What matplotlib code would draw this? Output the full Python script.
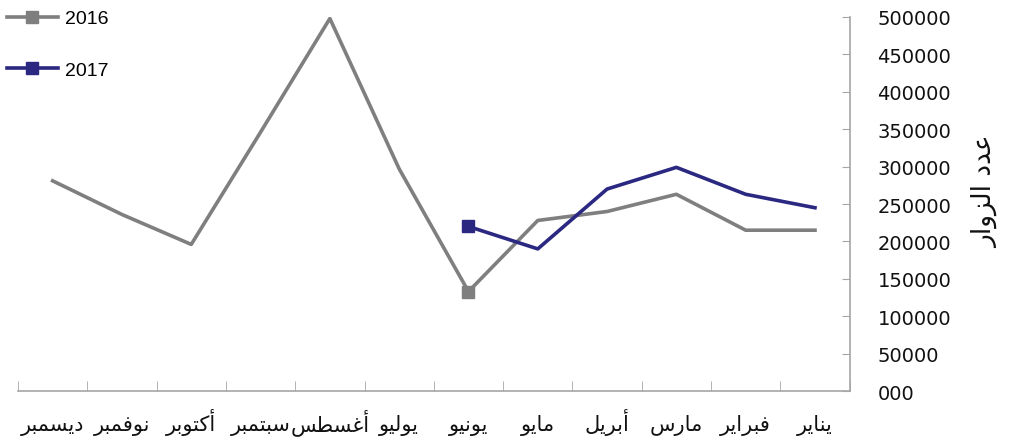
import matplotlib
matplotlib.use('Agg')
import matplotlib.pyplot as plt
from matplotlib.ticker import FixedLocator, FuncFormatter

# months, January first (drawn right to left)
MONTHS = ['يناير', 'فبراير', 'مارس', 'أبريل', 'مايو', 'يونيو',
          'يوليو', 'أغسطس', 'سبتمبر', 'أكتوبر', 'نوفمبر', 'ديسمبر']
VISITS_2016 = [215000, 215000, 263000, 240000, 228000, 133000,
               297000, 498000, 346000, 196000, 236000, 281000]
VISITS_2017 = [245000, 263000, 299000, 270000, 190000, 220000]
Y_TICKS = list(range(0, 500001, 50000))
Y_LABEL = 'عدد الزوار'

GREY = '#7f7f7f'
NAVY = '#2b2882'

# minimal arabic shaping: (isolated, final, initial, medial)
FORMS = {
    'ا': (0xFE8D, 0xFE8E, None, None),
    'أ': (0xFE83, 0xFE84, None, None),
    'د': (0xFEA9, 0xFEAA, None, None),
    'ر': (0xFEAD, 0xFEAE, None, None),
    'ز': (0xFEAF, 0xFEB0, None, None),
    'و': (0xFEED, 0xFEEE, None, None),
    'ب': (0xFE8F, 0xFE90, 0xFE91, 0xFE92),
    'ت': (0xFE95, 0xFE96, 0xFE97, 0xFE98),
    'س': (0xFEB1, 0xFEB2, 0xFEB3, 0xFEB4),
    'ط': (0xFEC1, 0xFEC2, 0xFEC3, 0xFEC4),
    'ع': (0xFEC9, 0xFECA, 0xFECB, 0xFECC),
    'غ': (0xFECD, 0xFECE, 0xFECF, 0xFED0),
    'ف': (0xFED1, 0xFED2, 0xFED3, 0xFED4),
    'ك': (0xFED9, 0xFEDA, 0xFEDB, 0xFEDC),
    'ل': (0xFEDD, 0xFEDE, 0xFEDF, 0xFEE0),
    'م': (0xFEE1, 0xFEE2, 0xFEE3, 0xFEE4),
    'ن': (0xFEE5, 0xFEE6, 0xFEE7, 0xFEE8),
    'ي': (0xFEF1, 0xFEF2, 0xFEF3, 0xFEF4),
}


def shape(text):
    out = []
    for i, ch in enumerate(text):
        if ch not in FORMS:
            out.append(ch)
            continue
        prev = text[i - 1] if i > 0 else ''
        nxt = text[i + 1] if i + 1 < len(text) else ''
        iso, fin, ini, med = FORMS[ch]
        joins_prev = prev in FORMS and FORMS[prev][2] is not None
        joins_next = ini is not None and nxt in FORMS
        if joins_prev and joins_next:
            code = med
        elif joins_prev:
            code = fin
        elif joins_next:
            code = ini
        else:
            code = iso
        out.append(chr(code))
    return ''.join(out)[::-1]


plt.rcParams['font.family'] = ['DejaVu Sans']

fig = plt.figure(figsize=(10.28, 4.39), dpi=100)
ax = fig.add_axes([0.0175, 0.107, 0.809, 0.852])

x16 = list(range(len(VISITS_2016)))
x17 = list(range(len(VISITS_2017)))
ax.plot(x16, VISITS_2016, color=GREY, lw=2.6, marker='s', ms=8,
        markevery=[5], label='2016')
ax.plot(x17, VISITS_2017, color=NAVY, lw=2.6, marker='s', ms=8,
        markevery=[5], label='2017')

ax.set_xlim(11.5, -0.5)
ax.set_ylim(0, 500000)

for s in ['top', 'left']:
    ax.spines[s].set_visible(False)
for s in ['bottom', 'right']:
    ax.spines[s].set_color('#a6a6a6')
    ax.spines[s].set_linewidth(1.2)

ax.yaxis.tick_right()
ax.set_yticks(Y_TICKS)
ax.yaxis.set_major_formatter(FuncFormatter(lambda v, p: '000' if v == 0 else f'{int(v)}'))
ax.tick_params(axis='y', direction='in', length=6, color='#a6a6a6',
               labelsize=14, pad=20, labelcolor='#111111')

ax.set_xticks(x16)
ax.set_xticklabels([shape(m) for m in MONTHS])
for lab in ax.get_xticklabels():
    lab.set_verticalalignment('baseline')
ax.xaxis.set_minor_locator(FixedLocator([i - 0.5 for i in range(13)]))
ax.tick_params(axis='x', which='major', length=0, labelsize=15, pad=28,
               labelcolor='#111111')
ax.tick_params(axis='x', which='minor', direction='in', length=7,
               color='#a6a6a6')

fig.text(0.958, 0.563, shape(Y_LABEL), rotation=90, ha='center', va='center',
         fontsize=19, color='#111111')

leg = ax.legend(loc='upper left', bbox_to_anchor=(-0.034, 1.066), frameon=False,
                prop={'family': ['Liberation Sans', 'DejaVu Sans'], 'size': 14},
                handlelength=2.6, handletextpad=0.35, labelspacing=1.75)

fig.savefig('out.png', dpi=100, facecolor='white')
